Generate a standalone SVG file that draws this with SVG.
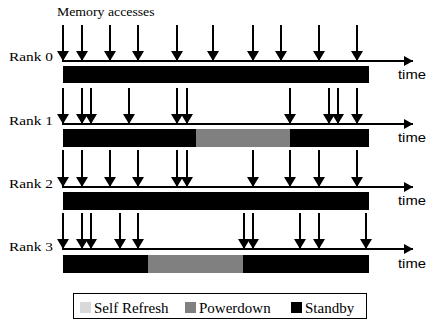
<svg xmlns="http://www.w3.org/2000/svg" width="427" height="320" viewBox="0 0 427 320">
<style>
.acc{stroke:#000;stroke-width:2;fill:none;marker-end:url(#ah)}
.axis{stroke:#000;stroke-width:2;fill:none;marker-end:url(#ax)}
.sb{fill:#000}
.pd{fill:#808080}
</style>
<defs>
<marker id="ah" markerUnits="userSpaceOnUse" markerWidth="10" markerHeight="12" viewBox="0 0 10 12" refX="10" refY="6" orient="auto">
<path d="M0,0 L10,6 L0,12 Z" fill="#000"/>
</marker>
<marker id="ax" markerUnits="userSpaceOnUse" markerWidth="9" markerHeight="10" viewBox="0 0 9 10" refX="9" refY="5" orient="auto">
<path d="M0,0 L9,5 L0,10 Z" fill="#000"/>
</marker>
</defs>
<rect width="427" height="320" fill="#fff"/>
<text font-family="Liberation Serif, serif" font-size="11.5" transform="translate(57,16) scale(1.2,1)">Memory accesses</text>

<g id="rank0">
<text font-family="Liberation Serif, serif" font-size="13" transform="translate(9,61) scale(1.18,1)">Rank 0</text>
<rect class="sb" x="63" y="66" width="306" height="17"/>
<text font-family="Liberation Sans, sans-serif" font-size="13" transform="translate(398,79) scale(1.14,1)">time</text>
</g>
<g id="rank1">
<text font-family="Liberation Serif, serif" font-size="13" transform="translate(9,125) scale(1.18,1)">Rank 1</text>
<rect class="sb" x="63" y="129" width="133" height="18"/>
<rect class="pd" x="196" y="129" width="94" height="18"/>
<rect class="sb" x="290" y="129" width="79" height="18"/>
<text font-family="Liberation Sans, sans-serif" font-size="13" transform="translate(398,142) scale(1.14,1)">time</text>
</g>
<g id="rank2">
<text font-family="Liberation Serif, serif" font-size="13" transform="translate(9,188) scale(1.18,1)">Rank 2</text>
<rect class="sb" x="63" y="192" width="306" height="18"/>
<text font-family="Liberation Sans, sans-serif" font-size="13" transform="translate(398,205) scale(1.14,1)">time</text>
</g>
<g id="rank3">
<text font-family="Liberation Serif, serif" font-size="13" transform="translate(9,251) scale(1.18,1)">Rank 3</text>
<rect class="sb" x="63" y="255" width="85" height="18"/>
<rect class="pd" x="148" y="255" width="95" height="18"/>
<rect class="sb" x="243" y="255" width="126" height="18"/>
<text font-family="Liberation Sans, sans-serif" font-size="13" transform="translate(398,268) scale(1.14,1)">time</text>
</g>

<g id="connectors">
<path class="axis" d="M62,61 H413"/>
<path class="axis" d="M62,124 H413"/>
<path class="axis" d="M62,187 H413"/>
<path class="axis" d="M62,249 H413"/>
<path class="acc" d="M63,25 V61"/><path class="acc" d="M82,25 V61"/><path class="acc" d="M110,25 V61"/><path class="acc" d="M138,25 V61"/><path class="acc" d="M177,25 V61"/><path class="acc" d="M213,25 V61"/><path class="acc" d="M253,25 V61"/><path class="acc" d="M281,25 V61"/><path class="acc" d="M319,25 V61"/><path class="acc" d="M357,25 V61"/>
<path class="acc" d="M63,88 V124"/><path class="acc" d="M82,88 V124"/><path class="acc" d="M91,88 V124"/><path class="acc" d="M129,88 V124"/><path class="acc" d="M177,88 V124"/><path class="acc" d="M187,88 V124"/><path class="acc" d="M290,88 V124"/><path class="acc" d="M329,88 V124"/><path class="acc" d="M338,88 V124"/><path class="acc" d="M357,88 V124"/>
<path class="acc" d="M63,150 V187"/><path class="acc" d="M82,150 V187"/><path class="acc" d="M110,150 V187"/><path class="acc" d="M138,150 V187"/><path class="acc" d="M177,150 V187"/><path class="acc" d="M187,150 V187"/><path class="acc" d="M253,150 V187"/><path class="acc" d="M290,150 V187"/><path class="acc" d="M319,150 V187"/><path class="acc" d="M357,150 V187"/>
<path class="acc" d="M63,213 V249"/><path class="acc" d="M82,213 V249"/><path class="acc" d="M91,213 V249"/><path class="acc" d="M120,213 V249"/><path class="acc" d="M138,213 V249"/><path class="acc" d="M244,213 V249"/><path class="acc" d="M253,213 V249"/><path class="acc" d="M300,213 V249"/><path class="acc" d="M319,213 V249"/><path class="acc" d="M366,213 V249"/>
</g>

<g id="legend">
<rect x="73.5" y="293.5" width="293" height="25" fill="#fff" stroke="#000" stroke-width="1"/>
<rect x="80" y="302" width="11" height="11" fill="#d9d9d9"/>
<text font-family="Liberation Serif, serif" font-size="15" x="94" y="313">Self Refresh</text>
<rect x="185" y="302" width="11" height="11" fill="#808080"/>
<text font-family="Liberation Serif, serif" font-size="15" x="199" y="313">Powerdown</text>
<rect x="291" y="302" width="11" height="11" fill="#000"/>
<text font-family="Liberation Serif, serif" font-size="15" x="305" y="313">Standby</text>
</g>
</svg>
